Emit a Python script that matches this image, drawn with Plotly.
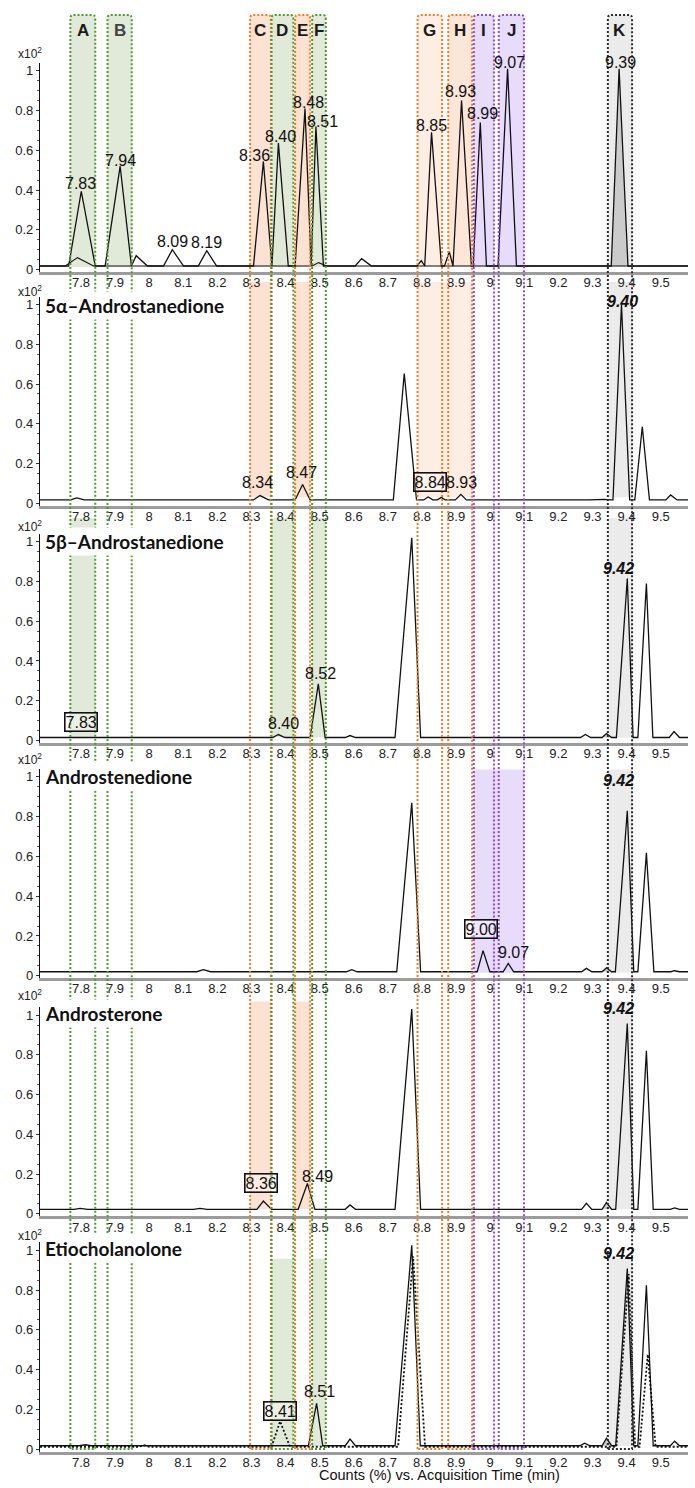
import plotly.graph_objects as go

# ---------------- data ----------------
X_RANGE = [7.68, 9.58]
X_TICKS = [7.8, 7.9, 8.0, 8.1, 8.2, 8.3, 8.4, 8.5, 8.6, 8.7, 8.8, 8.9, 9.0, 9.1, 9.2, 9.3, 9.4, 9.5]
X_TICK_TEXT = ["7.8", "7.9", "8", "8.1", "8.2", "8.3", "8.4", "8.5", "8.6", "8.7", "8.8", "8.9",
               "9", "9.1", "9.2", "9.3", "9.4", "9.5"]
Y_TICKS = [0, 0.2, 0.4, 0.6, 0.8, 1.0]
Y_TICK_TEXT = ["0", "0.2", "0.4", "0.6", "0.8", "1"]

PANEL_TITLES = ["", "5α–Androstanedione", "5β–Androstanedione", "Androstenedione",
                "Androsterone", "Etiocholanolone"]
BASELINES = [0.018, 0.017, 0.015, 0.020, 0.023, 0.017]

# peaks: (apex time, apex height x10^2, start time, end time)
PEAKS_1 = [(7.801, 0.394, 7.764, 7.842), (7.915, 0.52, 7.871, 7.948), (7.962, 0.07, 7.948, 7.995),
           (8.068, 0.10, 8.042, 8.101), (8.169, 0.095, 8.144, 8.198), (8.335, 0.544, 8.306, 8.360),
           (8.379, 0.636, 8.360, 8.408), (8.457, 0.81, 8.428, 8.475), (8.489, 0.72, 8.475, 8.511),
           (8.623, 0.055, 8.604, 8.652), (8.798, 0.045, 8.785, 8.808), (8.828, 0.69, 8.808, 8.857),
           (8.880, 0.09, 8.866, 8.891), (8.916, 0.85, 8.891, 8.945), (8.971, 0.74, 8.950, 8.989),
           (9.051, 1.01, 9.023, 9.077), (9.378, 1.01, 9.355, 9.404)]
OVERLAY_1 = [(7.790, 0.06, 7.754, 7.837), (8.497, 0.035, 8.478, 8.520)]

PEAKS_2 = [(7.788, 0.027, 7.770, 7.810), (8.325, 0.039, 8.306, 8.350), (8.450, 0.095, 8.428, 8.472),
           (8.748, 0.653, 8.716, 8.784), (8.818, 0.032, 8.805, 8.832), (8.857, 0.030, 8.845, 8.868),
           (8.914, 0.045, 8.898, 8.930), (9.335, 0.020, 9.290, 9.355), (9.385, 1.00, 9.360, 9.409),
           (9.446, 0.385, 9.424, 9.467), (9.529, 0.042, 9.515, 9.548)]

PEAKS_3 = [(8.379, 0.030, 8.362, 8.398), (8.496, 0.285, 8.472, 8.516), (8.589, 0.025, 8.575, 8.605),
           (8.770, 1.02, 8.721, 8.796), (9.279, 0.030, 9.265, 9.295), (9.341, 0.035, 9.328, 9.356),
           (9.402, 0.815, 9.370, 9.419), (9.458, 0.79, 9.433, 9.477), (9.539, 0.045, 9.525, 9.555)]

PEAKS_4 = [(8.159, 0.030, 8.140, 8.180), (8.594, 0.030, 8.578, 8.610), (8.770, 0.87, 8.726, 8.796),
           (8.979, 0.126, 8.962, 8.999), (9.053, 0.062, 9.038, 9.069), (9.282, 0.037, 9.268, 9.298),
           (9.341, 0.040, 9.328, 9.356), (9.402, 0.83, 9.367, 9.421), (9.458, 0.618, 9.433, 9.480),
           (9.540, 0.025, 9.530, 9.555)]

PEAKS_5 = [(7.798, 0.028, 7.780, 7.820), (8.149, 0.028, 8.130, 8.170), (8.335, 0.065, 8.316, 8.359),
           (8.464, 0.153, 8.437, 8.486), (8.589, 0.045, 8.575, 8.605), (8.770, 1.03, 8.721, 8.796),
           (9.282, 0.053, 9.268, 9.298), (9.341, 0.058, 9.328, 9.356), (9.402, 0.957, 9.368, 9.421),
           (9.458, 0.82, 9.433, 9.478), (9.541, 0.030, 9.528, 9.555)]

PEAKS_6 = [(7.813, 0.022, 7.795, 7.830), (8.491, 0.23, 8.467, 8.509), (8.589, 0.050, 8.575, 8.605),
           (8.770, 1.025, 8.721, 8.795), (9.277, 0.030, 9.263, 9.293), (9.341, 0.055, 9.328, 9.356),
           (9.402, 0.908, 9.368, 9.421), (9.458, 0.824, 9.433, 9.478), (9.541, 0.040, 9.528, 9.555)]
OVERLAY_6 = [(7.985, 0.020, 7.970, 8.000), (8.384, 0.14, 8.359, 8.413), (8.774, 0.97, 8.730, 8.809),
             (9.406, 0.88, 9.370, 9.425), (9.462, 0.476, 9.438, 9.485)]
OVERLAY_BASELINES = [0.018, 0.012]

# peak labels: (text, apex time, apex height, kind)
LABELS_1 = [("7.83", 7.801, 0.394, "plain"), ("7.94", 7.915, 0.52, "plain"), ("8.09", 8.068, 0.10, "plain"),
            ("8.19", 8.169, 0.095, "plain"), ("8.36", 8.335, 0.544, "plain"), ("8.40", 8.379, 0.636, "plain"),
            ("8.48", 8.457, 0.81, "plain"), ("8.51", 8.489, 0.72, "plain"), ("8.85", 8.828, 0.69, "plain"),
            ("8.93", 8.916, 0.85, "plain"), ("8.99", 8.971, 0.74, "plain"), ("9.07", 9.051, 1.01, "plain"),
            ("9.39", 9.378, 1.01, "plain")]
LABELS_2 = [("8.34", 8.325, 0.039, "plain"), ("8.47", 8.450, 0.095, "plain"), ("8.84", 8.818, 0.032, "box"),
            ("8.93", 8.914, 0.045, "plain"), ("9.40", 9.385, 1.00, "italic")]
LABELS_3 = [("7.83", 7.800, 0.015, "box"), ("8.40", 8.379, 0.030, "plain"), ("8.52", 8.496, 0.285, "plain"),
            ("9.42", 9.402, 0.815, "italic")]
LABELS_4 = [("9.00", 8.979, 0.126, "box"), ("9.07", 9.053, 0.062, "plain"), ("9.42", 9.402, 0.83, "italic")]
LABELS_5 = [("8.36", 8.335, 0.065, "box"), ("8.49", 8.464, 0.153, "plain"), ("9.42", 9.402, 0.957, "italic")]
LABELS_6 = [("8.41", 8.384, 0.14, "box"), ("8.51", 8.491, 0.23, "plain"), ("9.42", 9.402, 0.908, "italic")]

# retention-time windows
COLUMNS = ["A", "B", "C", "D", "E", "F", "G", "H", "I", "J", "K"]
COLUMN_START = [7.769, 7.878, 8.296, 8.359, 8.428, 8.478, 8.787, 8.877, 8.952, 9.025, 9.345]
COLUMN_END = [7.842, 7.949, 8.357, 8.423, 8.472, 8.518, 8.859, 8.947, 9.011, 9.099, 9.416]
COLUMN_GROUP = ["green", "green", "orange", "green", "orange", "green", "orange", "orange",
                "purple", "purple", "black"]
# windows highlighted in each panel (spans of windows)
HIGHLIGHT = [
    [("A", "A"), ("B", "B"), ("C", "C"), ("D", "D"), ("E", "E"), ("F", "F"), ("G", "G"), ("H", "H"),
     ("I", "I"), ("J", "J"), ("K", "K")],
    [("C", "C"), ("E", "E"), ("G", "H"), ("K", "K")],
    [("A", "A"), ("D", "D"), ("F", "F"), ("K", "K")],
    [("I", "J"), ("K", "K")],
    [("C", "C"), ("E", "E"), ("K", "K")],
    [("D", "D"), ("F", "F"), ("K", "K")],
]

# ---------------- layout / styling ----------------
W, H = 695, 1488
ML, MR = 40, 7
PLOT_W = W - ML - MR
Y0_PX = [270.5, 505, 743, 979, 1218, 1454]
UNIT_PX = 199.5
Y_RANGE = [-0.012, 1.04]
SHADE_PX = [(15, 268), (283, 499), (520, 740), (772, 976), (1005, 1213), (1263, 1451)]
BOX_TOP_PX, BOX_BOTTOM_PX = 15, 1454

LINE_COL = {"green": "#4f9a2f", "orange": "#f47c20", "purple": "#8f48de", "black": "#2a2a2a"}
FILL_COL = {"A": "#e1e9d8", "B": "#e1e9d8", "D": "#e1e9d8", "F": "#e1e9d8",
            "C": "#fbe2d2", "E": "#fbe2d2", "G": "#fdeee3", "H": "#fbe6d8",
            "I": "#e7ddfb", "J": "#e7ddfb", "K": "#ebebeb"}
K_PEAK_FILL = "#cbcbcb"

LABEL_OFFSETS = [
    [(-1, 8), (0, 6), (0, 8), (0, 8), (-9, 6), (2, 7), (3, 6), (7, 5), (0, 7), (-1, 9), (2, 9), (2, 6), (1, 6)],
    [(-2, 13), (-1, 12), (2, 15), (1, 12), (1, 3)],
    [(0, 16), (5, 11), (2, 10), (-9, 10)],
    [(-2, 22), (5, 11), (-9, 30)],
    [(-2, 18), (10, 7), (-9, 15)],
    [(0, 10), (3, 12), (-9, 15)],
]
X10_PX = [53, 292, 528, 762, 998, 1239]
TITLE_PX = [None, 307, 543, 779, 1017, 1253]

FONT = "Liberation Sans, Arial, sans-serif"


def fy(py):
    return 1 - py / H


def fx(px):
    return (px - ML) / PLOT_W


def build(peaks, base):
    xs, ys = [X_RANGE[0]], [base]
    for rt, h, s, e in peaks:
        xs += [s, rt, e]
        ys += [base, h, base]
    xs.append(X_RANGE[1])
    ys.append(base)
    return xs, ys


PEAKS = [PEAKS_1, PEAKS_2, PEAKS_3, PEAKS_4, PEAKS_5, PEAKS_6]
LABELS = [LABELS_1, LABELS_2, LABELS_3, LABELS_4, LABELS_5, LABELS_6]
ci = {c: i for i, c in enumerate(COLUMNS)}

fig = go.Figure()
layout = dict(width=W, height=H, margin=dict(l=ML, r=MR, t=0, b=0),
              paper_bgcolor="white", plot_bgcolor="rgba(0,0,0,0)", showlegend=False)
shapes = []
annotations = []

for k in range(6):
    n = "" if k == 0 else str(k + 1)
    xa, ya = "x" + n, "y" + n
    y0 = Y0_PX[k]
    dom = [fy(y0 - Y_RANGE[0] * UNIT_PX), fy(y0 - Y_RANGE[1] * UNIT_PX)]
    layout["xaxis" + n] = dict(domain=[0, 1], anchor=ya, range=X_RANGE, showline=True, linecolor="#9c9c9c",
                               linewidth=2.5, tickvals=X_TICKS, ticktext=X_TICK_TEXT, ticks="",
                               ticklabelstandoff=-3,
                               tickfont=dict(family=FONT, size=13, color="#222"),
                               showgrid=False, zeroline=False)
    layout["yaxis" + n] = dict(domain=dom, anchor=xa, range=Y_RANGE, showline=True, linecolor="#111",
                               linewidth=1.3, tickvals=Y_TICKS, ticktext=Y_TICK_TEXT, ticks="outside",
                               ticklen=3, tickcolor="#333", tickfont=dict(family=FONT, size=13, color="#222"),
                               minor=dict(ticks="outside", ticklen=2, dtick=0.05, tickcolor="#555"),
                               showgrid=False, zeroline=False)

    base = BASELINES[k]
    # K window peak fill
    kpk = [p for p in PEAKS[k] if COLUMN_START[ci["K"]] - 0.02 <= p[0] <= COLUMN_END[ci["K"]]][0]
    fig.add_trace(go.Scatter(x=[kpk[2], kpk[0], kpk[3]], y=[base, kpk[1], base], mode="lines",
                             fill="toself", fillcolor=K_PEAK_FILL, line=dict(width=0),
                             xaxis=xa, yaxis=ya, hoverinfo="skip"))
    if k == 0:
        ox, oy = build(OVERLAY_1, OVERLAY_BASELINES[0])
        fig.add_trace(go.Scatter(x=ox, y=oy, mode="lines", line=dict(color="#111", width=1.1),
                                 xaxis=xa, yaxis=ya))
    if k == 5:
        ox, oy = build(OVERLAY_6, OVERLAY_BASELINES[1])
        fig.add_trace(go.Scatter(x=ox, y=oy, mode="lines", line=dict(color="#111", width=1.8, dash="2px,2px"),
                                 xaxis=xa, yaxis=ya))
    xs, ys = build(PEAKS[k], base)
    fig.add_trace(go.Scatter(x=xs, y=ys, mode="lines", line=dict(color="#111", width=1.3),
                             xaxis=xa, yaxis=ya))

    # highlighted windows
    t_px, b_px = SHADE_PX[k]
    for c0, c1 in HIGHLIGHT[k]:
        shapes.append(dict(type="rect", xref="x", yref="paper", layer="below",
                           x0=COLUMN_START[ci[c0]], x1=COLUMN_END[ci[c1]], y0=fy(b_px), y1=fy(t_px),
                           fillcolor=FILL_COL[c0], line=dict(width=0)))

    # peak labels
    for (txt, xv, yv, kind), (dx, dy) in zip(LABELS[k], LABEL_OFFSETS[k]):
        a = dict(x=xv, y=yv, xref=xa, yref=ya, showarrow=False, xanchor="center", yanchor="middle",
                 xshift=dx, yshift=dy, font=dict(family=FONT, size=16, color="#111"), text=txt)
        if kind == "box":
            a.update(bordercolor="#111", borderwidth=1.6, borderpad=0, bgcolor="rgba(255,255,255,0.35)")
        if kind == "italic":
            a["text"] = "<b><i>" + txt + "</i></b>"
        annotations.append(a)

    annotations.append(dict(x=fx(30), y=fy(X10_PX[k]), xref="paper", yref="paper", showarrow=False,
                            text="x10<sup>2</sup>", font=dict(family=FONT, size=12, color="#222"),
                            xanchor="center", yanchor="middle"))
    if PANEL_TITLES[k]:
        annotations.append(dict(x=fx(42), y=fy(TITLE_PX[k]), xref="paper", yref="paper", showarrow=False,
                                text="<b>" + PANEL_TITLES[k] + "</b>", xanchor="left", yanchor="middle",
                                bgcolor="white", borderpad=2,
                                font=dict(family="Lato, Liberation Sans, sans-serif", size=19, color="#111")))

# window outlines (rounded tops) and letters
rx, ry = 0.008, 4 / H
for i, c in enumerate(COLUMNS):
    x0, x1 = COLUMN_START[i], COLUMN_END[i]
    yt, yb = fy(BOX_TOP_PX), fy(BOX_BOTTOM_PX)
    path = (f"M {x0},{yb} L {x0},{yt - ry} Q {x0},{yt} {x0 + rx},{yt} L {x1 - rx},{yt} "
            f"Q {x1},{yt} {x1},{yt - ry} L {x1},{yb} Z")
    shapes.append(dict(type="path", path=path, xref="x", yref="paper", layer="above",
                       line=dict(color=LINE_COL[COLUMN_GROUP[i]], width=2, dash="2px,2px")))
    annotations.append(dict(x=(x0 + x1) / 2, y=fy(31), xref="x", yref="paper", showarrow=False,
                            text="<b>" + c + "</b>", xanchor="center", yanchor="middle",
                            font=dict(family=FONT, size=17, color="#444" if c == "B" else "#1a1a1a")))

annotations.append(dict(x=fx(439), y=fy(1480), xref="paper", yref="paper", showarrow=False,
                        text="Counts (%) vs. Acquisition Time (min)", xanchor="center", yanchor="middle",
                        font=dict(family=FONT, size=14.5, color="#111")))

layout["shapes"] = shapes
layout["annotations"] = annotations
fig.update_layout(**layout)
fig.write_html("out.html")
